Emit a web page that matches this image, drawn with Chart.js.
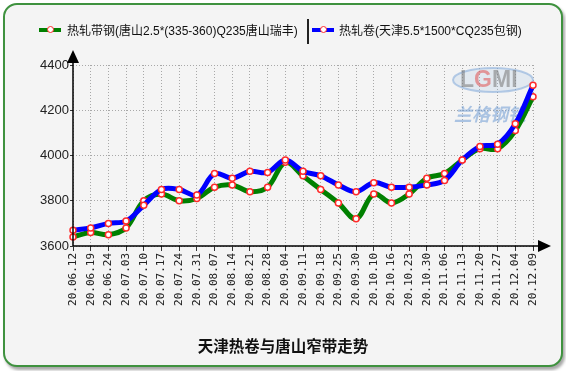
<!DOCTYPE html>
<html>
<head>
<meta charset="utf-8">
<script src="https://cdn.jsdelivr.net/npm/chart.js@4.4.0/dist/chart.umd.min.js"></script>
<style>
	body { margin: 0; background: #fff; }
	#wrap { position: relative; width: 566px; height: 371px; overflow: hidden; }
	#panel {
		position: absolute; left: 3px; top: 3px; width: 556px; height: 360px;
		border: 2px solid #3f923f; border-radius: 14px; background: #f4f4f4;
		box-shadow: 2px 3px 3px rgba(0, 0, 0, 0.35);
	}
	#chart { position: absolute; left: 0; top: 0; }
	.legend { position: absolute; top: 21px; font: 12px "Liberation Sans", "Noto Sans CJK SC", sans-serif; color: #111; white-space: nowrap; }
	.mark { position: absolute; top: 28px; width: 22px; height: 4px; }
	.mark i { position: absolute; left: 8px; top: -2px; width: 5px; height: 5px; border: 1.5px solid #ff2a2a; border-radius: 50%; background: #fff; }
	#sep { position: absolute; left: 307px; top: 19px; width: 2px; height: 25px; background: #222; }
	#title { position: absolute; left: 0; width: 566px; top: 334px; text-align: center; font: bold 15.5px "Noto Sans CJK SC", sans-serif; color: #111; }
</style>
</head>
<body>
<div id="wrap">
	<div id="panel"></div>
	<canvas id="chart" width="566" height="371"></canvas>
	<div class="mark" style="left:39px;background:#008000"><i></i></div>
	<div class="legend" style="left:67px">热轧带钢(唐山2.5*(335-360)Q235唐山瑞丰)</div>
	<div id="sep"></div>
	<div class="mark" style="left:312px;background:#0000ff"><i></i></div>
	<div class="legend" style="left:339px">热轧卷(天津5.5*1500*CQ235包钢)</div>
	<div id="title">天津热卷与唐山窄带走势</div>
</div>
<script>
const dates = [
	'20.06.12', '20.06.19', '20.06.24', '20.07.03', '20.07.10', '20.07.17', '20.07.24',
	'20.07.31', '20.08.07', '20.08.14', '20.08.21', '20.08.28', '20.09.04', '20.09.11',
	'20.09.18', '20.09.25', '20.09.30', '20.10.10', '20.10.16', '20.10.23', '20.10.30',
	'20.11.06', '20.11.13', '20.11.20', '20.11.27', '20.12.04', '20.12.09',
];
// 热轧带钢 唐山
const stripTangshan = [
	3640, 3660, 3650, 3680, 3800, 3830, 3800, 3810, 3860, 3870, 3840, 3860, 3970, 3910,
	3850, 3790, 3720, 3830, 3790, 3830, 3900, 3920, 3980, 4030, 4030, 4110, 4260,
];
// 热轧卷 天津
const coilTianjin = [
	3670, 3680, 3700, 3710, 3780, 3850, 3850, 3825, 3920, 3900, 3930, 3925, 3980, 3930,
	3910, 3870, 3840, 3880, 3860, 3860, 3870, 3890, 3980, 4040, 4050, 4140, 4310,
];
const yTicks = [3600, 3800, 4000, 4200, 4400];

// arrows on the axes + logo watermark
const decor = {
	id: 'decor',
	beforeDatasetsDraw(chart) {
		const ctx = chart.ctx;
		ctx.save();
		ctx.globalAlpha = 0.55;
		ctx.strokeStyle = '#7fa8d8';
		ctx.fillStyle = 'rgba(150,185,225,0.35)';
		ctx.lineWidth = 2;
		ctx.beginPath();
		ctx.ellipse(493, 80, 40, 12, 0, 0, Math.PI * 2);
		ctx.fill();
		ctx.stroke();
		ctx.font = 'bold 23px "Liberation Sans"';
		ctx.textBaseline = 'middle';
		ctx.fillStyle = '#777';
		ctx.fillText('L', 460, 81);
		ctx.fillStyle = '#e05050';
		ctx.fillText('G', 474, 81);
		ctx.fillStyle = '#777';
		ctx.fillText('MI', 492, 81);
		ctx.fillStyle = '#6d9bd4';
		ctx.font = 'italic bold 18px "Noto Sans CJK SC"';
		ctx.fillText('兰格钢铁', 454, 114);
		ctx.restore();
	},
	afterDraw(chart) {
		const {ctx, chartArea: a} = chart;
		ctx.save();
		ctx.strokeStyle = '#000';
		ctx.fillStyle = '#000';
		ctx.lineWidth = 1.5;
		ctx.beginPath();
		ctx.moveTo(a.left, a.bottom);
		ctx.lineTo(a.left, 60);
		ctx.moveTo(a.left, a.bottom);
		ctx.lineTo(540, a.bottom);
		ctx.stroke();
		ctx.beginPath();
		ctx.moveTo(a.left, 50);
		ctx.lineTo(a.left - 6, 63);
		ctx.lineTo(a.left + 6, 63);
		ctx.fill();
		ctx.beginPath();
		ctx.moveTo(551, a.bottom);
		ctx.lineTo(538, a.bottom - 6);
		ctx.lineTo(538, a.bottom + 6);
		ctx.fill();
		ctx.restore();
	},
};

function series(data, color) {
	return {
		data: data,
		borderColor: color,
		borderWidth: 5,
		tension: 0.35,
		pointRadius: 3,
		pointBorderWidth: 1.5,
		pointBackgroundColor: '#fff',
		pointBorderColor: '#ff2a2a',
		clip: false,
	};
}

new Chart(document.getElementById('chart'), {
	type: 'line',
	data: {
		labels: dates,
		datasets: [
			series(coilTianjin, '#0000ff'),
			series(stripTangshan, '#008000'),
		],
	},
	options: {
		responsive: false,
		devicePixelRatio: 1,
		animation: false,
		layout: { padding: { top: 65, right: 33, left: 0, bottom: 0 } },
		plugins: { legend: { display: false }, tooltip: { enabled: false } },
		scales: {
			x: {
				offset: false,
				afterFit: (s) => { s.height = 125; },
				ticks: {
					autoSkip: false,
					minRotation: 90,
					maxRotation: 90,
					padding: 2,
					color: '#222',
					font: { family: 'DejaVu Sans Mono', size: 11 },
				},
				grid: { color: '#a8a8a8', tickLength: 5, tickColor: '#333', tickBorderDash: [] },
				border: { display: false, dash: [1, 2] },
			},
			y: {
				min: 3600,
				max: 4400,
				afterFit: (s) => { s.width = 73; },
				afterBuildTicks: (s) => { s.ticks = yTicks.map((v) => ({ value: v })); },
				ticks: {
					padding: 1,
					color: '#222',
					font: { family: 'Liberation Sans', size: 13 },
					callback: (v) => String(v),
				},
				grid: { color: '#a8a8a8', tickLength: 3, tickColor: '#333', tickBorderDash: [] },
				border: { display: false, dash: [1, 2] },
			},
		},
	},
	plugins: [decor],
});
</script>
</body>
</html>
